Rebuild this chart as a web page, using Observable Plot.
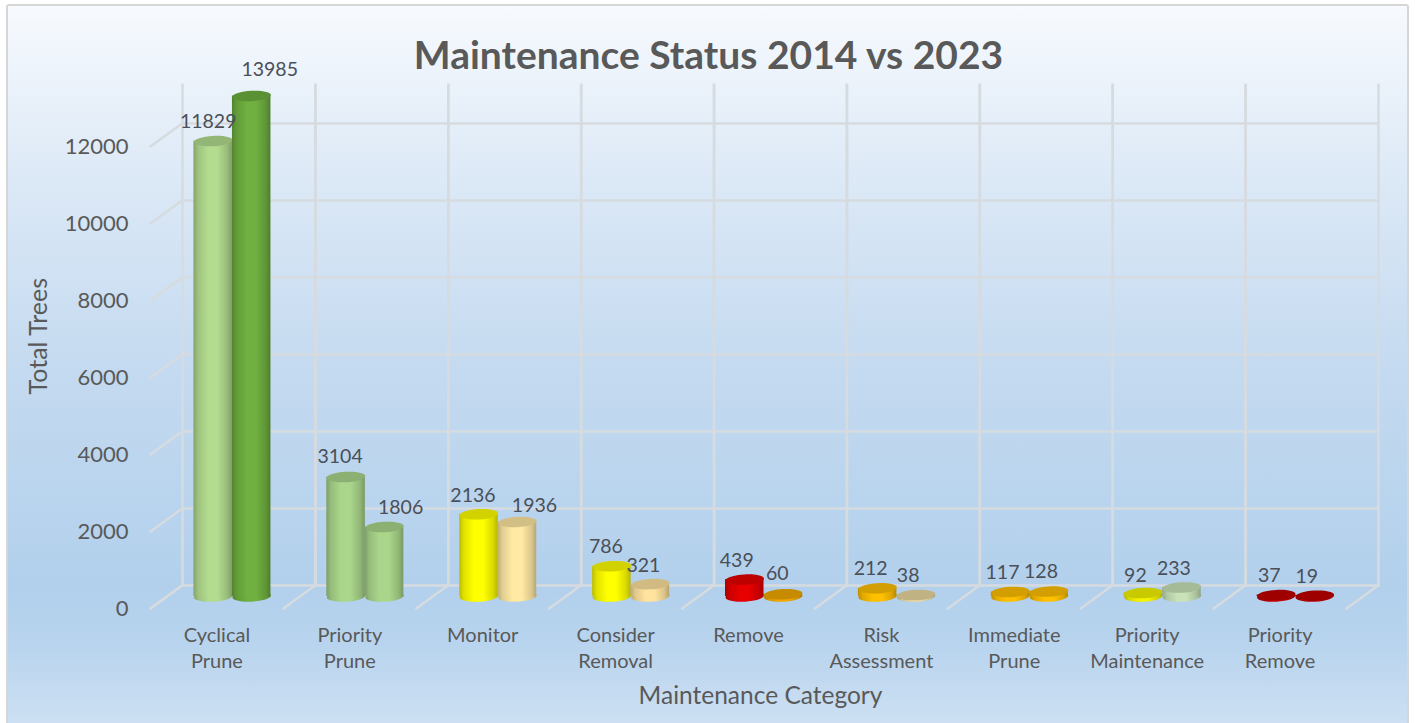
<!DOCTYPE html>
<html><head><meta charset="utf-8">
<script src="https://cdn.jsdelivr.net/npm/d3@7"></script>
<script src="https://cdn.jsdelivr.net/npm/@observablehq/plot@0.6"></script>
<style>
html,body{margin:0;padding:0;background:#fff;overflow:hidden}
#card{position:absolute;left:6px;top:4px;width:1403px;height:730px;box-sizing:border-box;border:2px solid #d6d6d6;border-radius:3px;
background:linear-gradient(180deg,#f7fafe 0%,#dbe8f6 25%,#c4daf0 50%,#b2d0ec 80%,#b8d4ee 88%,#cfe1f3 100%)}
#chart{position:absolute;left:0;top:0}
</style></head><body>
<div id="card"></div><div id="chart"></div>
<script>
const categories=["Cyclical\nPrune","Priority\nPrune","Monitor","Consider\nRemoval","Remove","Risk\nAssessment","Immediate\nPrune","Priority\nMaintenance","Priority\nRemove"];
const values2014=[11829,3104,2136,786,439,212,117,92,37];
const values2023=[13985,1806,1936,321,60,38,128,233,19];
const colors2014=["#b3dc8f","#aad68b","#ffff00","#ffff00","#e60000","#ffc000","#ffc000","#f4f400","#c00000"];
const colors2023=["#6fb040","#aad68b","#ffe9a3","#ffe39e","#f2a900","#ead9a0","#ffc000","#c9e2b8","#c00000"];
const nudge2014=[-5,-6,-6,-6,-8,-7,-8,-8,-7];
const nudge2023=[18,16,17,-7,-6,-8,-8,-8,-8];
const lift2014=[-20,-21.5,-20,-20,-20,-21,-20,-18.5,-20.5];
const lift2023=[-27.5,-20.5,-17.5,-19,-21,-20.5,-21,-20,-20];
const yTicks=[0,2000,4000,6000,8000,10000,12000];

const rows=[
 ...categories.map((c,i)=>({cat:c,series:"2014",value:values2014[i],color:colors2014[i],nx:nudge2014[i],ny:lift2014[i]})),
 ...categories.map((c,i)=>({cat:c,series:"2023",value:values2023[i],color:colors2023[i],nx:nudge2023[i],ny:lift2023[i]}))
];
const hex=c=>c.slice(1);
const shade=(c,k)=>d3.rgb(c).darker(k).formatHex();
const ellipse={draw(ctx,size){
  const rx=Math.sqrt(size/Math.PI),ry=rx*0.27,k=0.5523;
  ctx.moveTo(-rx,0);
  ctx.bezierCurveTo(-rx,-ry*k,-rx*k,-ry,0,-ry);
  ctx.bezierCurveTo(rx*k,-ry,rx,-ry*k,rx,0);
  ctx.bezierCurveTo(rx,ry*k,rx*k,ry,0,ry);
  ctx.bezierCurveTo(-rx*k,ry,-rx,ry*k,-rx,0);
  ctx.closePath();
}};
const segment={draw(ctx,l){ctx.moveTo(0,0);ctx.lineTo(0,-l);}};
const defs=()=>{
  const d=d3.create("svg:defs");
  for(const c of new Set([...colors2014,...colors2023])){
    const g=d.append("linearGradient").attr("id","g"+hex(c));
    [[0,shade(c,.85)],[.12,shade(c,.35)],[.38,c],[.62,c],[.88,shade(c,.45)],[1,shade(c,.95)]]
      .forEach(([o,col])=>g.append("stop").attr("offset",o).attr("stop-color",col));
  }
  return d.node();
};
const BX=15.5, W=19.25, GRID="#d6dbe0";
const series=s=>rows.filter(r=>r.series===s);
const cyl=s=>[
  Plot.dot(series(s),{fx:"cat",x:"series",y:0,dx:BX,dy:-1,r:W,symbol:ellipse,rotate:-3,fill:d=>`url(#g${hex(d.color)})`}),
  Plot.barY(series(s),{fx:"cat",x:"series",y:"value",dx:BX,dy:-1,fill:d=>`url(#g${hex(d.color)})`}),
  Plot.dot(series(s),{fx:"cat",x:"series",y:"value",dx:BX,dy:-1,r:W,symbol:ellipse,rotate:-3,fill:d=>shade(d.color,.55)})
];
const grid={stroke:GRID,strokeWidth:2.5};
const diag={length:39,rotate:54,anchor:"start",shape:segment,stroke:GRID,strokeWidth:2.5,dy:11};
const plot=Plot.plot({
  width:1415,height:723,marginLeft:150,marginRight:69,marginTop:96.5,marginBottom:126,
  style:{background:"transparent",fontFamily:"Lato, 'Open Sans', sans-serif"},
  fx:{domain:categories,padding:0,round:false,label:null},
  x:{domain:["2014","2023"],paddingInner:0,paddingOuter:.726,round:false,axis:null},
  y:{domain:[0,13000],clamp:true,label:null},
  color:{type:"identity"},
  marks:[
    defs,
    Plot.ruleY(yTicks,{...grid,dx:32,dy:-12}),
    Plot.frame({anchor:"left",...grid,dx:32,dy:-12}),
    Plot.frame({anchor:"right",...grid,dx:32,dy:-12}),
    Plot.vector(yTicks,{y:d=>d,fx:()=>categories[0],frameAnchor:"left",...diag}),
    Plot.vector(categories,{y:0,fx:d=>d,frameAnchor:"left",...diag}),
    Plot.vector(categories.slice(-1),{y:0,fx:d=>d,frameAnchor:"right",...diag}),
    ...cyl("2014"),
    ...cyl("2023"),
    ...rows.map(r=>Plot.text([r],{fx:"cat",x:"series",y:"value",text:d=>String(d.value),dx:BX+r.nx,dy:r.ny,fontSize:19.5,fill:"#4a4f58"})),
    Plot.axisY(yTicks,{anchor:"left",tickSize:0,tickPadding:22,dy:11.5,fontSize:22,color:"#595959",label:null,tickFormat:d=>String(d)}),
    Plot.axisFx({anchor:"bottom",tickSize:0,tickPadding:26,fontSize:20,lineHeight:1.3,color:"#595959",label:null}),
    Plot.text(["Maintenance Status 2014 vs 2023"],{frameAnchor:"top",dx:-40,dy:-56,fontSize:39,fontWeight:700,fill:"#595959",facet:"super"}),
    Plot.text(["Total Trees"],{frameAnchor:"left",dx:-112,dy:-11,rotate:-90,textAnchor:"middle",fontSize:25,fill:"#595959",facet:"super"}),
    Plot.text(["Maintenance Category"],{frameAnchor:"bottom",dx:12,dy:106,fontSize:24.5,fill:"#595959",facet:"super"})
  ]
});
document.getElementById("chart").append(plot);
</script></body></html>
